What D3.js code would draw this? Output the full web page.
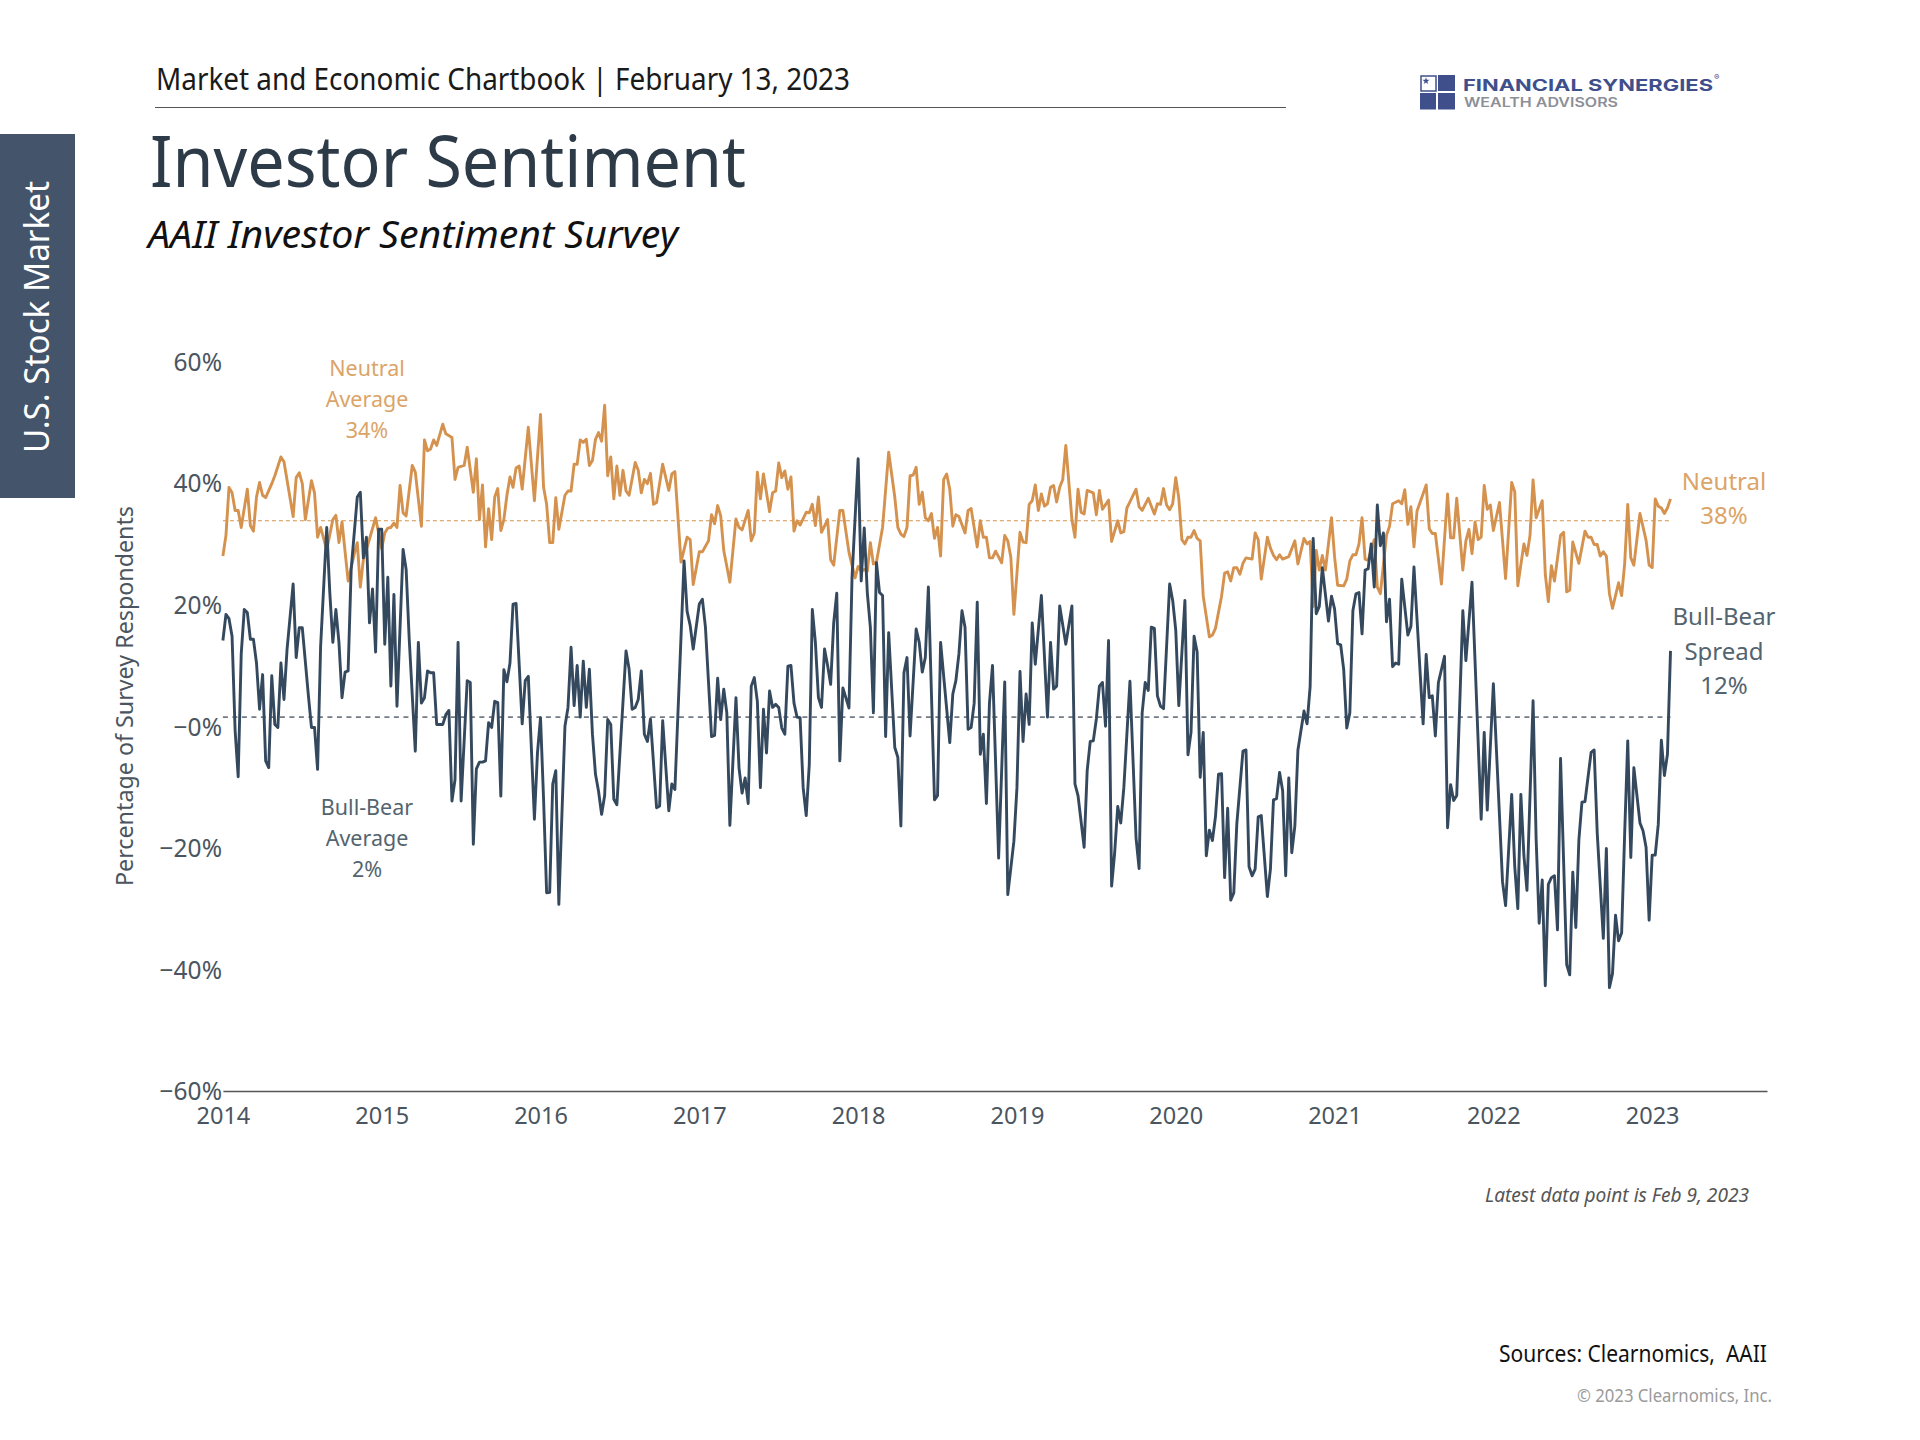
<!doctype html>
<html lang="en">
  <head>
    <meta charset="utf-8">
    <title>Investor Sentiment</title>
    <script src="https://d3js.org/d3.v7.min.js"></script>
    <style>
      html, body { margin: 0; padding: 0; background: #fff; }
      svg { display: block; font-family: "Noto Sans", sans-serif; }
    </style>
  </head>
  <body>
    <div id="chart"></div>
    <script>

      // weekly survey readings as [weeks since start of 2014, percent]
      const bullBearSpread = [[0,14.1],[1,18.4],[2,17.7],[3,14.8],[4,-0.7],[5,-8.3],[6,11.9],[7,19.2],[8,18.7],[9,14.3],[10,14.3],[11,10.4],[12,2.8],[13,8.5],[14,-5.7],[15,-6.8],[16,8.3],[17,0.3],[18,-0.2],[19,10.4],[20,4.4],[21,12.6],[23,23.4],[24,11.3],[25,16.2],[26,16.2],[28,5],[29,-0.2],[30,-0.2],[31,-7.1],[32,13.2],[34,32.7],[35,22],[36,13.8],[37,19.2],[38,13.8],[39,4.7],[40,8.9],[41,9.1],[42,25.8],[44,37.7],[45,38.5],[46,27.7],[47,31.1],[48,17],[49,22.6],[50,12.2],[51,32.4],[52,32.4],[53,13.5],[54,24.5],[55,6.6],[56,21.7],[57,3.3],[59,29.1],[60,25.8],[61,14.4],[63,-4.1],[64,13.8],[65,3.8],[66,4.7],[67,9.1],[68,8.8],[69,8.8],[70,0.3],[72,0.3],[73,1.9],[74,2.6],[75,-12.3],[76,-8.8],[77,13.8],[78,-12.3],[80,7.5],[81,7.2],[82,-19.4],[83,-7],[84,-5.9],[85,-5.9],[86,-5.7],[87,0.6],[88,-0.2],[89,4.1],[90,3.9],[91,-11.5],[92,9.3],[93,7.3],[94,10.4],[95,20.1],[96,20.2],[98,0.4],[99,7.5],[100,8.2],[102,-15.3],[103,-4.4],[104,1.4],[105,-12],[106,-27.4],[107,-27.3],[108,-9.5],[109,-7.3],[110,-29.3],[112,0],[113,3.1],[114,13],[115,3.4],[116,10],[117,1.5],[118,10.7],[119,3.1],[120,9.4],[121,-1.3],[122,-7.9],[123,-10.7],[124,-14.5],[125,-11.4],[126,1.1],[127,0.3],[128,-12],[129,-12.9],[132,12.4],[133,9.4],[134,2.8],[135,3.1],[136,4.4],[137,9.1],[138,-1.3],[139,-2.5],[140,1.2],[142,-13.4],[143,-13.1],[144,0.9],[146,-13.9],[147,-9.5],[148,-10.4],[151,27.2],[152,18.9],[153,16.6],[154,12.7],[156,20.1],[157,20.9],[158,16.3],[160,-1.7],[161,-1.5],[162,7.9],[163,1.1],[164,6.1],[165,2.2],[166,-16.3],[168,4.7],[169,-6.9],[170,-11],[171,-8.5],[172,-12.7],[173,6.6],[174,8],[175,4.1],[176,-10.1],[177,2.8],[178,-4.4],[179,5.8],[180,3.1],[181,3.6],[182,3.1],[183,-0.3],[184,-1.3],[185,9.9],[186,10],[187,3.8],[188,1.5],[189,1.4],[190,-10.1],[191,-14.7],[192,-6.3],[193,19.2],[194,13.8],[195,4.7],[196,3.1],[197,12.7],[198,10],[199,6.9],[200,17],[201,21.9],[202,-5.7],[203,6.3],[205,3],[206,24.5],[208,44],[209,23.9],[210,32.6],[211,22],[212,16.3],[213,2.2],[214,26.9],[215,22],[216,21.5],[217,-1.7],[218,15.4],[220,-3.5],[221,-5.1],[222,-16.4],[223,8.8],[224,11.3],[225,-1.6],[227,16],[228,13.8],[229,8.9],[230,11.3],[231,22.9],[233,-12.1],[234,-11.4],[235,13.8],[238,-2.7],[239,5.3],[240,7.5],[241,11.9],[242,19],[243,16.3],[244,-0.5],[245,-0.2],[246,3.8],[247,20.4],[248,-4.6],[249,-1.3],[250,-12.7],[251,3.8],[252,10],[254,-21.7],[256,7.3],[257,-27.7],[259,-18.9],[260,-10.1],[261,9],[262,-2.5],[263,5.3],[264,0.3],[265,17],[266,10.2],[268,21.5],[270,1.5],[271,13.8],[272,6.1],[273,6.6],[274,19.8],[276,13.5],[278,19.8],[279,-9.5],[280,-11.4],[282,-19.9],[283,-7.3],[284,-2.5],[285,-2.4],[286,1.2],[287,6.6],[288,7.2],[289,0],[290,14.1],[291,-26.3],[292,-20.8],[293,-13.2],[294,-15.9],[295,-10.1],[297,7.4],[299,-18.4],[300,-23.4],[301,2.2],[302,7.2],[303,5.9],[304,16.3],[305,16.1],[306,5],[307,3.3],[308,2.9],[310,23.4],[311,20.7],[312,15.8],[313,3.4],[315,20.7],[316,-4.7],[317,-1],[318,14.8],[319,12.2],[320,-8.4],[321,-1],[322,-21.3],[323,-17.1],[324,-18.8],[325,-14.9],[326,-7.9],[327,-7.8],[328,-24.9],[329,-13.5],[330,-28.6],[331,-27.4],[332,-16],[334,-4.1],[335,-3.9],[336,-23.1],[337,-24.6],[338,-23.5],[339,-14.9],[340,-14.7],[342,-28],[343,-23.5],[344,-12.1],[345,-11.9],[346,-7.6],[347,-10.6],[348,-24.6],[349,-8.5],[350,-20.8],[351,-16.4],[352,-3.9],[354,2.5],[355,0.4],[356,6.5],[357,30.9],[358,18.5],[359,19.7],[360,26.1],[362,17.3],[363,21.4],[364,19.3],[365,13.6],[366,13.4],[367,9.3],[368,-0.3],[369,2.2],[370,19],[371,21.8],[372,22],[373,15.2],[374,25.7],[375,25.9],[376,30],[377,22.9],[378,36.4],[379,29.7],[380,31.8],[381,17.2],[382,20.9],[383,9.8],[384,10.4],[385,10.2],[386,24.2],[388,15],[389,16.4],[390,26.2],[393,0.4],[394,11.8],[395,4.7],[396,5],[397,-1.6],[398,7.2],[400,11.5],[401,-16.7],[402,-9.6],[403,-12.2],[404,-11.4],[406,19],[407,10.8],[409,23.7],[412,-15.3],[413,-1],[414,-13.8],[416,7],[419,-25.6],[420,-29.5],[422,-11.2],[423,-23.1],[424,-30],[425,-11.2],[426,-21.3],[427,-27],[429,4.2],[430,-18.5],[431,-32.4],[432,-25.3],[433,-42.7],[434,-26],[435,-24.9],[436,-24.6],[437,-33.5],[438,-5.3],[440,-39.2],[441,-40.9],[442,-24],[443,-33.1],[444,-18.7],[445,-12.5],[446,-12.4],[448,-4.3],[449,-3.9],[450,-17.5],[452,-34.9],[453,-20.1],[454,-43],[455,-40.7],[456,-31.1],[457,-35.3],[458,-34],[459,-17.5],[460,-2.4],[461,-21.6],[462,-6.8],[464,-15.9],[465,-17.2],[466,-19.9],[467,-31.9],[468,-21.2],[469,-21.2],[470,-16.1],[471,-2.3],[472,-8.1],[473,-4.6],[474,12.4]];

      const neutral = [[0,28],[1,31.4],[2,39.3],[3,38.4],[4,35.5],[5,35.5],[6,32.7],[8,39],[9,33],[10,32.1],[11,37.7],[12,40.1],[13,38],[14,37.6],[16,39.9],[17,41.2],[19,44.3],[20,43.5],[23,34.5],[24,40.9],[25,41.7],[26,39.9],[27,34],[29,40.4],[30,38.4],[31,31.1],[32,32.7],[34,29],[36,34],[37,34.7],[38,30.2],[39,33.6],[41,23.9],[43,28.3],[44,30.2],[45,22.9],[46,27.4],[48,30.8],[50,34.3],[52,29.2],[53,31.8],[54,32.6],[55,32.7],[56,33.4],[57,32.7],[58,39.6],[59,35.1],[60,34.6],[62,42.9],[63,41.8],[65,32.9],[66,47.1],[67,45.3],[68,45.6],[69,47.1],[70,46.2],[72,49.7],[73,48.1],[75,47.5],[76,40.6],[77,42.6],[79,42.9],[80,45.9],[82,38.5],[83,44],[84,34],[85,39.7],[86,29.5],[87,35.8],[88,30.7],[89,37.7],[90,39.1],[91,32.2],[92,34],[93,38],[94,41],[95,39.3],[96,42.5],[97,42.8],[98,39],[100,49.2],[102,37.1],[104,51.3],[105,39.3],[106,36.5],[107,30.2],[108,30.2],[109,37.6],[110,32.4],[112,38],[113,38.7],[114,38.7],[115,43.1],[116,43.1],[117,47.1],[118,46.7],[119,47.2],[120,42.9],[121,43.7],[122,47.2],[123,48.3],[124,46.9],[125,52.8],[126,41.2],[127,44.3],[128,37.4],[129,42.8],[130,38],[131,42.1],[132,38.7],[133,38],[135,43.4],[136,42.1],[137,38.4],[138,40.6],[139,39.9],[140,41.6],[141,36.5],[142,36.8],[144,43.1],[146,38.8],[147,41.5],[148,41.9],[150,27],[152,31.1],[153,30.7],[154,23.3],[156,28.7],[157,28.7],[159,30.5],[160,34.8],[161,33.3],[162,36.3],[163,34.6],[164,28.9],[166,23.7],[168,34.1],[169,32.7],[170,32.3],[172,35.5],[173,30.5],[174,31.8],[175,41.8],[176,37.4],[177,41.5],[179,35.3],[180,38.4],[181,38.7],[182,43.3],[183,40.9],[184,42],[185,39],[186,41],[187,32.1],[188,33.8],[189,33.1],[191,35.2],[192,35.1],[193,36.5],[194,33],[195,37.7],[196,31.9],[198,34],[199,27.4],[200,26.5],[202,35.5],[203,35.5],[205,28.6],[207,24.4],[208,26.3],[209,25.5],[210,25.8],[211,25.5],[212,30.2],[213,26.7],[214,27],[216,32.7],[218,45.1],[220,37.7],[221,32.7],[222,31.6],[223,31.2],[224,32.7],[225,41.2],[226,41.3],[227,42.6],[228,36.5],[229,38.5],[230,34.3],[231,33.8],[232,35],[233,30.9],[234,32.7],[235,28],[236,40.6],[237,41.5],[238,39],[239,32.9],[240,34.8],[241,34.5],[243,31.8],[244,35.5],[245,35.8],[247,29.5],[248,33.8],[249,31.1],[250,31.1],[251,27.7],[252,27.7],[253,28.8],[255,26.9],[256,31.4],[257,30.5],[258,27.8],[259,18.4],[261,31.9],[262,30.3],[263,30.2],[264,36.5],[265,37.1],[266,39.7],[267,35.5],[268,38.2],[269,36.2],[270,36.6],[271,39.3],[272,39.6],[273,36.9],[274,39.3],[275,40.6],[276,46.2],[278,34],[279,31.1],[280,39],[281,35.2],[282,34.9],[283,38.8],[285,38.4],[286,34.8],[287,38.8],[288,35.7],[290,37.2],[291,30.4],[293,33.8],[294,31.8],[295,32],[296,35.9],[297,36.9],[299,39],[300,36.1],[301,35.5],[303,37.5],[305,34.9],[306,36.6],[307,36.5],[308,39.1],[309,36.4],[310,35.6],[311,36.6],[312,40.9],[313,37.5],[314,30.7],[315,30],[316,31.1],[317,31.1],[318,32.2],[319,30.9],[320,30.5],[321,21.4],[323,14.7],[324,15],[325,16.1],[327,21.4],[328,25.2],[329,25.4],[330,23.9],[331,26.1],[332,26.1],[333,25],[334,26.8],[335,27.7],[337,27.5],[338,31.8],[339,30.7],[340,24.2],[342,31.1],[343,29.3],[344,28.1],[345,27.4],[346,28.2],[347,27.5],[349,27.9],[351,30.5],[352,26.7],[354,30.9],[355,30],[356,30.4],[357,19.7],[358,28.9],[359,25.7],[360,28.1],[361,25.7],[363,34.3],[364,27.9],[365,23.2],[367,23.1],[368,24.2],[369,27.2],[370,28.2],[371,28.2],[372,30],[373,34.3],[374,27.5],[375,27.3],[377,30.7],[378,22.9],[379,21.8],[381,31.4],[382,32.9],[383,36.6],[385,37.1],[386,36.6],[387,38.9],[388,33.2],[389,36.1],[390,29.5],[391,35.4],[394,39.7],[395,32.5],[396,31.7],[397,31.7],[399,23.4],[401,38.2],[402,31],[403,31],[404,37.5],[406,25.7],[407,30.5],[408,32.4],[409,28.4],[410,33.6],[411,30.7],[412,31.1],[413,39.6],[414,35.7],[415,36.4],[416,32.2],[418,36.8],[420,24.3],[422,40.1],[423,38.6],[424,23.1],[426,30],[427,28.1],[428,31.4],[429,40.5],[430,34.3],[432,37.1],[433,25],[434,20.5],[435,26.4],[436,23.9],[438,31.4],[439,31.9],[440,22.1],[441,22.4],[442,30.3],[444,26.8],[446,32.1],[447,31.1],[448,31.1],[449,29.9],[450,29.9],[451,28],[452,28.7],[453,28],[454,21.8],[455,19.4],[457,23.6],[458,21.5],[459,26.8],[460,36.5],[461,27.7],[462,26.5],[464,35],[466,30.6],[467,26.5],[468,26.1],[469,37.4],[470,36.2],[471,35.9],[472,35],[473,35.9],[474,37.4]];

      const neutralAverage = 33.8;
      const bullBearAverage = 1.5;
      const lastWeek = 474;

      const yearTicks = [2014, 2015, 2016, 2017, 2018, 2019, 2020, 2021, 2022, 2023];
      const percentTicks = [60, 40, 20, 0, -20, -40, -60];
      const percentLabels = ["60%", "40%", "20%", "\u22120%", "\u221220%", "\u221240%", "\u221260%"];

      const orange = "#d4924e";
      const navy = "#35495e";

      const svg = d3.select("#chart").append("svg")
        .attr("width", 1920)
        .attr("height", 1440);

      // scales, x runs in years, 52 weeks to the year
      const x = d3.scaleLinear().domain([2014, 2023.723]).range([222.9, 1767]);
      const y = d3.scaleLinear().domain([-60, 60]).range([1091, 361.5]);
      const xWeek = w => x(2014 + w / 52);

      // page furniture
      function label(txt, px, py, size, fill, opts = {}) {
        const t = svg.append("text")
          .attr("x", px)
          .attr("y", py)
          .attr("font-size", size)
          .attr("fill", fill)
          .attr("text-anchor", opts.anchor || "start")
          .attr("dominant-baseline", opts.baseline || "middle")
          .text(txt);
        if (opts.italic) t.attr("font-style", "italic");
        if (opts.weight) t.attr("font-weight", opts.weight);
        if (opts.family) t.attr("font-family", opts.family);
        if (opts.length) t.attr("textLength", opts.length).attr("lengthAdjust", "spacingAndGlyphs");
        return t;
      }

      label("Market and Economic Chartbook | February 13, 2023", 156, 90, 31, "#1a1a1a",
        {baseline: "auto", length: 694});
      svg.append("line")
        .attr("x1", 155).attr("x2", 1286)
        .attr("y1", 107.5).attr("y2", 107.5)
        .attr("stroke", "#555").attr("stroke-width", 1.2);

      label("Investor Sentiment", 150, 187, 71, "#2d3a47", {baseline: "auto", length: 596});
      label("AAII Investor Sentiment Survey", 148, 248, 39, "#111",
        {baseline: "auto", italic: true, length: 530});

      svg.append("rect")
        .attr("x", 0).attr("y", 134)
        .attr("width", 75).attr("height", 364)
        .attr("fill", "#44546a");
      label("U.S. Stock Market", 0, 0, 34, "#fff", {anchor: "middle", length: 272})
        .attr("transform", "translate(40,317) rotate(-90)");

      // logo
      const logoBlue = "#3f4f8c";
      const logoFont = 'Inter, "Noto Sans", sans-serif';
      svg.append("rect").attr("x", 1421).attr("y", 76).attr("width", 15).attr("height", 15)
        .attr("fill", "#fff").attr("stroke", logoBlue).attr("stroke-width", 1.5);
      svg.append("rect").attr("x", 1438).attr("y", 75).attr("width", 17).attr("height", 16).attr("fill", logoBlue);
      svg.append("rect").attr("x", 1420).attr("y", 93).attr("width", 16).attr("height", 16.5).attr("fill", logoBlue);
      svg.append("rect").attr("x", 1438).attr("y", 93).attr("width", 17).attr("height", 16.5).attr("fill", logoBlue);
      svg.append("path")
        .attr("d", d3.symbol(d3.symbolStar, 16)())
        .attr("transform", "translate(1426,81)")
        .attr("fill", logoBlue);
      label("FINANCIAL SYNERGIES", 1463, 90.5, 15.5, logoBlue,
        {baseline: "auto", weight: 700, length: 250, family: logoFont});
      label("\u00ae", 1714, 80, 8, logoBlue, {baseline: "auto", family: logoFont});
      label("WEALTH ADVISORS", 1464, 106.5, 12.5, "#8c8f98",
        {baseline: "auto", weight: 600, length: 154, family: logoFont});

      // axes
      const xAxis = svg.append("g")
        .attr("transform", `translate(0,${y(-60)})`)
        .call(d3.axisBottom(x).tickValues(yearTicks).tickFormat(d3.format("d")).tickSize(0).tickPadding(16));
      xAxis.select(".domain").attr("stroke", "#555").attr("stroke-width", 1.6);
      xAxis.selectAll("text")
        .attr("font-family", '"Noto Sans", sans-serif')
        .attr("font-size", 23.5)
        .attr("fill", "#4a5560");

      const yAxis = svg.append("g")
        .attr("transform", `translate(222,1)`)
        .call(d3.axisLeft(y).tickValues(percentTicks)
          .tickFormat((d, i) => percentLabels[i]).tickSize(0).tickPadding(0));
      yAxis.select(".domain").remove();
      yAxis.selectAll("text")
        .attr("font-family", '"Noto Sans", sans-serif')
        .attr("font-size", 24.5)
        .attr("fill", "#4a5560");

      label("Percentage of Survey Respondents", 0, 0, 23, "#4a5560", {anchor: "middle", length: 380})
        .attr("transform", "translate(127,696) rotate(-90)");

      // average lines
      svg.append("line")
        .attr("x1", x(2014)).attr("x2", xWeek(lastWeek))
        .attr("y1", y(neutralAverage)).attr("y2", y(neutralAverage))
        .attr("stroke", orange).attr("stroke-width", 1.2)
        .attr("stroke-dasharray", "4 3");
      svg.append("line")
        .attr("x1", x(2014)).attr("x2", xWeek(lastWeek))
        .attr("y1", y(bullBearAverage)).attr("y2", y(bullBearAverage))
        .attr("stroke", "#727b84").attr("stroke-width", 1.6)
        .attr("stroke-dasharray", "5 4.5");

      // series
      const line = d3.line().x(d => xWeek(d[0])).y(d => y(d[1]));

      svg.append("path")
        .datum(neutral)
        .attr("d", line)
        .attr("fill", "none")
        .attr("stroke", orange)
        .attr("stroke-width", 2.9)
        .attr("stroke-linejoin", "round");

      svg.append("path")
        .datum(bullBearSpread)
        .attr("d", line)
        .attr("fill", "none")
        .attr("stroke", navy)
        .attr("stroke-width", 2.9)
        .attr("stroke-linejoin", "round");

      // annotations
      const softOrange = "#dba468";
      const slate = "#53646f";
      label("Neutral", 367, 370, 21.5, softOrange, {anchor: "middle"});
      label("Average", 367, 401, 21.5, softOrange, {anchor: "middle"});
      label("34%", 367, 432, 21.5, softOrange, {anchor: "middle"});
      label("Bull-Bear", 367, 809, 21.5, slate, {anchor: "middle"});
      label("Average", 367, 840, 21.5, slate, {anchor: "middle"});
      label("2%", 367, 871, 21.5, slate, {anchor: "middle"});

      label("Neutral", 1724, 484, 24, softOrange, {anchor: "middle"});
      label("38%", 1724, 518, 24, softOrange, {anchor: "middle"});
      label("Bull-Bear", 1724, 619, 24, slate, {anchor: "middle"});
      label("Spread", 1724, 654, 24, slate, {anchor: "middle"});
      label("12%", 1724, 688, 24, slate, {anchor: "middle"});

      label("Latest data point is Feb 9, 2023", 1485, 1197, 20, "#555", {italic: true, length: 264});
      label("Sources: Clearnomics,  AAII", 1499, 1355.5, 23, "#111", {length: 268}).style("white-space", "pre");
      label("\u00a9 2023 Clearnomics, Inc.", 1577, 1397, 17.5, "#9a9a9a", {length: 195});

    </script>
  </body>
</html>
